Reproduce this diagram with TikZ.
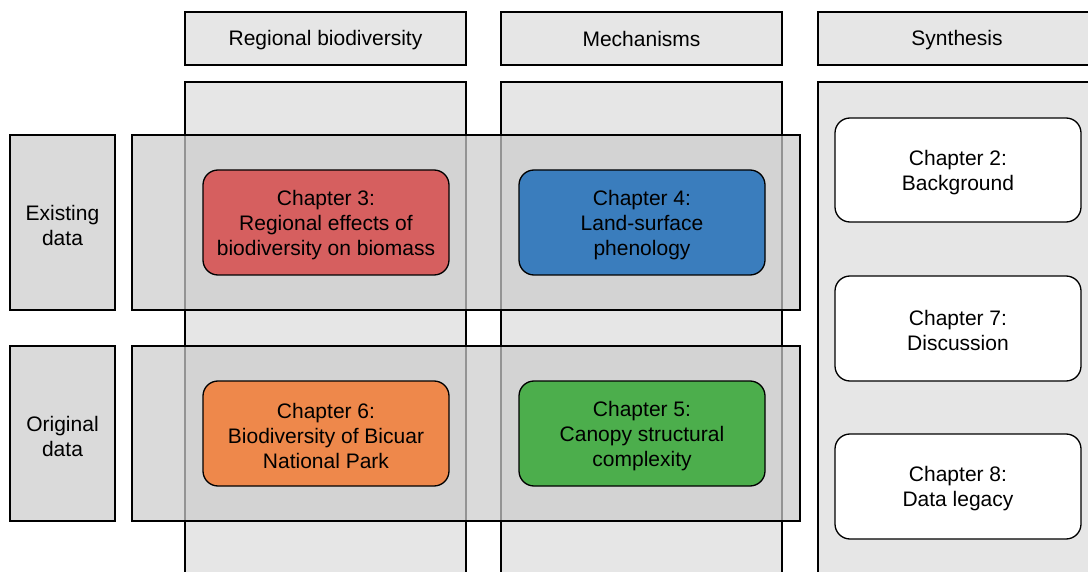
\documentclass[tikz,border=0pt]{standalone}
\usepackage{fontspec}
\setmainfont{Liberation Sans}
\begin{document}
\begin{tikzpicture}[x=1pt,y=-1pt,
  base/.style={draw=black,line width=1.3pt},
  header/.style={base,fill=colgray},
  column/.style={base,fill=colgray},
  band/.style={base,fill=bandgray,fill opacity=0.72,draw opacity=1},
  rowlabel/.style={base,fill=labelgray},
  chapter/.style={base,rounded corners=15pt},
  lbl/.style={align=center,font=\fontsize{21}{25}\selectfont}]
\definecolor{colgray}{HTML}{E6E6E6}
\definecolor{bandgray}{HTML}{CCCCCC}
\definecolor{labelgray}{HTML}{DADADA}
\definecolor{chred}{HTML}{D65F5F}
\definecolor{chblue}{HTML}{3A7DBD}
\definecolor{chorange}{HTML}{EE884B}
\definecolor{chgreen}{HTML}{4CAE4C}
\useasboundingbox (0,0) rectangle (1088,572);
\clip (0,0) rectangle (1088,572);

% column headers
\draw[header] (185,12) rectangle (466,65);
\node[lbl] (hreg) at (325.5,40) {Regional biodiversity};
\draw[header] (501,12) rectangle (782,65);
\node[lbl] (hmech) at (641.5,38.5) {Mechanisms};
\draw[header] (818,12) rectangle (1100,65);
\node[lbl] (hsyn) at (957,40) {Synthesis};

% column bodies
\draw[column] (185,82) rectangle (466,590);
\draw[column] (501,82) rectangle (782,590);
\draw[column] (818,82) rectangle (1100,590);

% row labels
\draw[rowlabel] (10,135) rectangle (115,310);
\node[lbl] (rexist) at (62.5,225) {Existing\\data};
\draw[rowlabel] (10,346) rectangle (115,521);
\node[lbl] (rorig) at (62.5,436) {Original\\data};

% translucent row bands across the first two columns
\draw[band] (132,135) rectangle (800,310);
\draw[band] (132,346) rectangle (800,521);

% chapters
\path[chapter,fill=chred] (203,170) rectangle (449,275);
\node[lbl] (c3) at (326,225) {Chapter 3:\\Regional effects of\\biodiversity on biomass};
\path[chapter,fill=chblue] (519,170) rectangle (765,275);
\node[lbl] (c4) at (642,225) {Chapter 4:\\Land-surface\\phenology};
\path[chapter,fill=chorange] (203,381) rectangle (449,486);
\node[lbl] (c6) at (326,436) {Chapter 6:\\Biodiversity of Bicuar\\National Park};
\path[chapter,fill=chgreen] (519,381) rectangle (765,486);
\node[lbl] (c5) at (642,436) {Chapter 5:\\Canopy structural\\complexity};

\path[chapter,fill=white] (835,118) rectangle (1081,222);
\node[lbl] (c2) at (958,172.5) {Chapter 2:\\Background};
\path[chapter,fill=white] (835,276) rectangle (1081,381);
\node[lbl] (c7) at (958,330.5) {Chapter 7:\\Discussion};
\path[chapter,fill=white] (835,434) rectangle (1081,539);
\node[lbl] (c8) at (958,488.5) {Chapter 8:\\Data legacy};
\end{tikzpicture}
\end{document}
